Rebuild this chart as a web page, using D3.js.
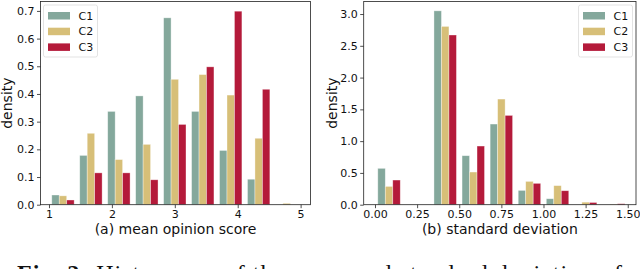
<!DOCTYPE html>
<html>
<head>
<meta charset="utf-8">
<script src="https://cdn.jsdelivr.net/npm/d3@7"></script>
<style>
  body { margin: 0; background: #fff; }
  svg { display: block; font-family: "DejaVu Sans", sans-serif; }
</style>
</head>
<body>
<div id="chart"></div>
<script>
const series = ["C1", "C2", "C3"];
const colors = ["#84a89c", "#d7bf78", "#b41a3a"];

// (a) mean opinion score: 9 bins over [1, 5]
const mosBins = { lo: 1, hi: 5, n: 9 };
const mosC1 = [0.035, 0.178, 0.337, 0.393, 0.675, 0.337, 0.196, 0.092, 0.0];
const mosC2 = [0.032, 0.258, 0.163, 0.218, 0.453, 0.470, 0.396, 0.240, 0.005];
const mosC3 = [0.017, 0.115, 0.115, 0.090, 0.290, 0.498, 0.699, 0.417, 0.0];
const mosXTicks = [1, 2, 3, 4, 5];
const mosYTicks = [0, 0.1, 0.2, 0.3, 0.4, 0.5, 0.6, 0.7];

// (b) standard deviation: 9 bins over [0, 1.5]
const sdBins = { lo: 0, hi: 1.5, n: 9 };
const sdC1 = [0.572, 0, 3.050, 0.771, 1.269, 0.225, 0.094, 0.0, 0.0];
const sdC2 = [0.288, 0, 2.805, 0.514, 1.662, 0.367, 0.300, 0.040, 0.008];
const sdC3 = [0.388, 0, 2.670, 0.923, 1.405, 0.336, 0.220, 0.035, 0.015];
const sdXTicks = [0, 0.25, 0.5, 0.75, 1.0, 1.25, 1.5];
const sdYTicks = [0, 0.5, 1.0, 1.5, 2.0, 2.5, 3.0];

const W = 640, H = 269;
const svg = d3.select("#chart").append("svg")
    .attr("width", W)
    .attr("height", H);

function panel(opt) {
    const x = d3.scaleLinear().domain(opt.xDomain).range([opt.left, opt.right]);
    const y = d3.scaleLinear().domain(opt.yDomain).range([opt.bottom, opt.top]);
    const g = svg.append("g");

    const w = (opt.bins.hi - opt.bins.lo) / opt.bins.n;
    const bw = 0.8 * w / 3;
    opt.values.forEach((vals, s) => {
        g.selectAll(null)
            .data(vals)
            .enter()
            .append("rect")
            .attr("x", (d, i) => x(opt.bins.lo + i * w + 0.1 * w + s * bw))
            .attr("width", x(bw) - x(0))
            .attr("y", d => y(d))
            .attr("height", d => y(0) - y(d))
            .attr("fill", colors[s])
            .attr("stroke", "#fff")
            .attr("stroke-opacity", 0.5)
            .attr("stroke-width", 0.7);
    });

    // axes
    g.append("g")
        .attr("transform", `translate(0,${opt.bottom})`)
        .call(d3.axisBottom(x).tickValues(opt.xTicks).tickSize(3.5).tickPadding(2)
            .tickFormat(opt.xFormat))
        .call(a => a.select(".domain").remove());
    g.append("g")
        .attr("transform", `translate(${opt.left},0)`)
        .call(d3.axisLeft(y).tickValues(opt.yTicks).tickSize(3.5).tickPadding(2.5)
            .tickFormat(opt.yFormat))
        .call(a => a.select(".domain").remove());
    g.selectAll(".tick text").attr("font-size", "11px").attr("fill", "#111")
        .attr("font-family", "DejaVu Sans");
    g.selectAll(".tick line").attr("stroke", "#222").attr("stroke-width", 0.8);

    // frame
    g.append("rect")
        .attr("x", opt.left).attr("y", opt.top)
        .attr("width", opt.right - opt.left).attr("height", opt.bottom - opt.top)
        .attr("fill", "none").attr("stroke", "#222").attr("stroke-width", 0.8);

    // legend
    const lg = g.append("g").attr("transform", `translate(${opt.legX},${opt.legY})`);
    lg.append("rect")
        .attr("width", 54).attr("height", 52).attr("rx", 2)
        .attr("fill", "#fff").attr("fill-opacity", 0.8)
        .attr("stroke", "#dcdcdc").attr("stroke-width", 0.8);
    series.forEach((name, s) => {
        lg.append("rect")
            .attr("x", 4.5).attr("y", 7 + s * 15.7)
            .attr("width", 22).attr("height", 7.5)
            .attr("fill", colors[s]);
        lg.append("text")
            .attr("x", 35).attr("y", 10.7 + s * 15.7)
            .attr("dy", "0.36em")
            .attr("font-size", "11px")
            .attr("fill", "#111")
            .text(name);
    });

    // axis titles
    g.append("text")
        .attr("transform", `translate(${opt.yLabelX},${(opt.top + opt.bottom) / 2}) rotate(-90)`)
        .attr("text-anchor", "middle")
        .attr("font-size", "14px")
        .attr("fill", "#111")
        .text("density");
    g.append("text")
        .attr("x", (opt.left + opt.right) / 2)
        .attr("y", 233.5)
        .attr("text-anchor", "middle")
        .attr("font-size", "14px")
        .attr("fill", "#111")
        .text(opt.title);
}

panel({
    left: 40.5, right: 310.5, top: 1.5, bottom: 204.7,
    xDomain: [0.865, 5.157], yDomain: [0, 0.734],
    bins: mosBins, values: [mosC1, mosC2, mosC3],
    xTicks: mosXTicks, yTicks: mosYTicks,
    xFormat: d3.format("d"), yFormat: d3.format(".1f"),
    legX: 43.5, legY: 5, yLabelX: 11.5,
    title: "(a) mean opinion score"
});

panel({
    left: 363.7, right: 636, top: 1.5, bottom: 204.7,
    xDomain: [-0.067, 1.549], yDomain: [0, 3.197],
    bins: sdBins, values: [sdC1, sdC2, sdC3],
    xTicks: sdXTicks, yTicks: sdYTicks,
    xFormat: d3.format(".2f"), yFormat: d3.format(".1f"),
    legX: 578.5, legY: 5, yLabelX: 337,
    title: "(b) standard deviation"
});

// figure caption, mostly cut off by the bottom edge as in the source
svg.append("text")
    .attr("x", 17)
    .attr("y", 281)
    .attr("font-family", "Liberation Serif, serif")
    .attr("font-size", "24px")
    .attr("fill", "#111")
    .attr("textLength", 605)
    .attr("lengthAdjust", "spacing")
    .call(t => {
        t.append("tspan").attr("font-weight", "bold").text("Fig. 2: ");
        t.append("tspan").text("Histograms of the mean and standard deviation of");
    });
</script>
</body>
</html>
